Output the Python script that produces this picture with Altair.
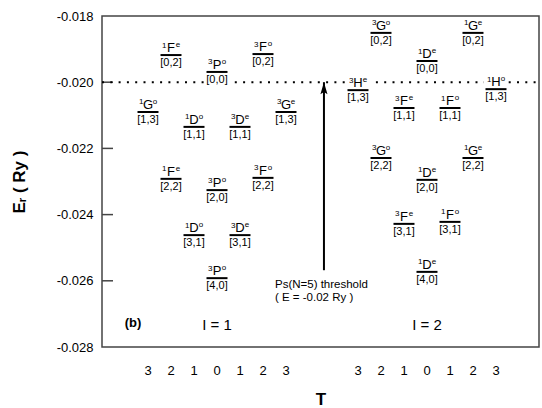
import altair as alt
import pandas as pd

# Doubly-excited resonance levels below the Ps(N=5) threshold, grouped by I
panel = [1] * 13 + [2] * 13
slot = [-2, 0, 2, -3, -1, 1, 3, -2, 0, 2, -1, 1, 0,
        -2, 2, 0, -3, 3, -1, 1, -2, 2, 0, -1, 1, 0]
mult = ["1", "3", "3", "1", "1", "3", "3", "1", "3", "3", "1", "3", "3",
        "3", "1", "1", "3", "1", "3", "1", "3", "1", "1", "3", "1", "1"]
letter = ["F", "P", "F", "G", "D", "D", "G", "F", "P", "F", "D", "D", "P",
          "G", "G", "D", "H", "H", "F", "F", "G", "G", "D", "F", "F", "D"]
parity = ["e", "o", "o", "o", "o", "e", "e", "e", "o", "o", "o", "e", "o",
          "o", "e", "e", "e", "o", "e", "o", "o", "e", "e", "e", "o", "e"]
K = [0, 0, 0, 1, 1, 1, 1, 2, 2, 2, 3, 3, 4,
     0, 0, 0, 1, 1, 1, 1, 2, 2, 2, 3, 3, 4]
T = [2, 0, 2, 3, 1, 1, 3, 2, 0, 2, 1, 1, 0,
     2, 2, 0, 3, 3, 1, 1, 2, 2, 0, 1, 1, 0]
energy = [-0.01918, -0.01969, -0.01915, -0.02090, -0.02135, -0.02135, -0.02090,
          -0.02292, -0.02326, -0.02289, -0.02462, -0.02462, -0.02592,
          -0.01851, -0.01851, -0.01936, -0.02024, -0.02021, -0.02078, -0.02078,
          -0.02229, -0.02229, -0.02295, -0.02428, -0.02422, -0.02573]

panel_base = {1: 0.0, 2: 9.13}
t_ticks = [3, 2, 1, 0, 1, 2, 3]
threshold = -0.020
y_ticks = [-0.028, -0.026, -0.024, -0.022, -0.020, -0.018]
inner_ticks = [-0.020, -0.022, -0.024, -0.026]

df = pd.DataFrame({
    "panel": panel, "slot": slot, "mult": mult, "letter": letter,
    "parity": parity, "K": K, "T": T, "energy": energy,
})
df["x"] = [panel_base[p] + s + 3 for p, s in zip(df["panel"], df["slot"])]
df["kt"] = [f"[{k},{t}]" for k, t in zip(df["K"], df["T"])]

# T labels under each group: 3 2 1 0 1 2 3
tlab_df = pd.DataFrame({
    "x": [panel_base[p] + i for p in (1, 2) for i in range(len(t_ticks))],
    "t": [str(v) for _ in (1, 2) for v in t_ticks],
})

FONT = "Liberation Sans"
W, H = 437, 331
xscale = alt.Scale(domain=[-2, 17], nice=False, zero=False)
yscale = alt.Scale(domain=[-0.028, -0.018], nice=False, zero=False)

x_enc = alt.X(
    "x:Q", scale=xscale,
    axis=alt.Axis(
        labels=False, ticks=False, domain=False, grid=False,
        title="T", titleFontSize=17, titleFontWeight="bold",
        titlePadding=44, titleColor="black",
    ),
)
y_enc = alt.Y(
    "energy:Q", scale=yscale,
    axis=alt.Axis(
        values=y_ticks,
        labelExpr="replace(format(datum.value, '.3f'), '\u2212', '-')",
        labelOverlap=False, labelFlush=False,
        ticks=False, domain=False, grid=False,
        labelFontSize=13, labelPadding=9, labelColor="black",
        title="Eᵣ ( Ry )", titleFontSize=17, titleFontWeight="bold",
        titleX=-74, titleY=H / 2, titleAlign="center", titleAngle=270,
        titleBaseline="bottom", titleColor="black",
    ),
)


def px(field):
    return alt.X(field, scale=xscale)


def py(field):
    return alt.Y(field, scale=yscale)


base = alt.Chart(df)

# level bars carry the two axes
bars = base.mark_rule(color="black", strokeWidth=2, xOffset=-10.5, x2Offset=10.5).encode(
    x=x_enc, x2="x:Q", y=y_enc
)

# short inward ticks on the energy axis
tick_df = pd.DataFrame({"energy": inner_ticks})
ticks = alt.Chart(tick_df).mark_rule(color="#444", strokeWidth=1.5).encode(
    y=py("energy:Q"), x=alt.value(0), x2=alt.value(11)
)

# T labels below the frame
tlabels = alt.Chart(tlab_df).mark_text(
    font=FONT, fontSize=13, align="center", baseline="middle"
).encode(x=px("x:Q"), y=alt.value(H + 24), text="t:N")

# dotted Ps(N=5) threshold
thresh = alt.Chart(pd.DataFrame({"e": [threshold]})).mark_rule(
    color="black", strokeWidth=2, strokeDash=[2, 6.3]
).encode(y=py("e:Q"), x=alt.value(0), x2=alt.value(W))

# white backing behind each level's labels
backing = base.mark_rect(
    color="white", xOffset=-12, x2Offset=12, yOffset=-15, y2Offset=13
).encode(x=px("x:Q"), x2="x:Q", y=py("energy:Q"), y2="energy:Q")

bars_top = base.mark_rule(color="black", strokeWidth=2, xOffset=-10.5, x2Offset=10.5).encode(
    x=px("x:Q"), x2="x:Q", y=py("energy:Q")
)
letters = base.mark_text(
    font=FONT, fontSize=13, align="center", baseline="alphabetic", dy=-3
).encode(x=px("x:Q"), y=py("energy:Q"), text="letter:N")
mults = base.mark_text(
    font=FONT, fontSize=8, align="right", baseline="alphabetic", dx=-4.5, dy=-7.5
).encode(x=px("x:Q"), y=py("energy:Q"), text="mult:N")
parities = base.mark_text(
    font=FONT, fontSize=8, align="left", baseline="alphabetic", dx=4.8, dy=-8
).encode(x=px("x:Q"), y=py("energy:Q"), text="parity:N")
kts = base.mark_text(
    font=FONT, fontSize=11, align="center", baseline="top", dy=2
).encode(x=px("x:Q"), y=py("energy:Q"), text="kt:N")

# threshold arrow
arrow_x = 7.65
arrow_bottom = -0.02568
arrow_df = pd.DataFrame({"x": [arrow_x], "y0": [arrow_bottom], "y1": [threshold]})
arrow_shaft = alt.Chart(arrow_df).mark_rule(color="black", strokeWidth=2).encode(
    x=px("x:Q"), y=py("y0:Q"), y2="y1:Q"
)
arrow_head = alt.Chart(arrow_df).mark_point(
    shape="M0,-1L0.5,0.7L0,0.4L-0.5,0.7Z", filled=True, color="black",
    size=200, opacity=1, yOffset=7,
).encode(x=px("x:Q"), y=py("y1:Q"))

notes_df = pd.DataFrame({
    "x": [5.52, 5.52],
    "y": [-0.02614, -0.02652],
    "t": ["Ps(N=5) threshold", "( E = -0.02 Ry )"],
})
notes = alt.Chart(notes_df).mark_text(
    font=FONT, fontSize=11.5, align="left", baseline="middle"
).encode(x=px("x:Q"), y=py("y:Q"), text="t:N")

tag_df = pd.DataFrame({"x": [-0.65], "y": [-0.02727], "t": ["(b)"]})
tag = alt.Chart(tag_df).mark_text(
    font=FONT, fontSize=13, fontWeight="bold", align="center", baseline="middle"
).encode(x=px("x:Q"), y=py("y:Q"), text="t:N")

group_df = pd.DataFrame({
    "x": [panel_base[1] + 3, panel_base[2] + 3],
    "y": [-0.02733, -0.02733],
    "t": ["I = 1", "I = 2"],
})
groups = alt.Chart(group_df).mark_text(
    font=FONT, fontSize=15, align="center", baseline="middle"
).encode(x=px("x:Q"), y=py("y:Q"), text="t:N")

chart = alt.layer(
    bars, ticks, tlabels, thresh, backing, bars_top, letters, mults, parities, kts,
    arrow_shaft, arrow_head, notes, tag, groups,
).properties(
    width=W, height=H,
    autosize=alt.AutoSizeParams(type="none"),
    padding={"left": 102, "top": 16, "right": 3, "bottom": 61},
).configure(
    font=FONT
).configure_view(
    stroke="#444", strokeWidth=1.5
)

chart.save("out.html", embed_options={"renderer": "svg", "actions": False})
